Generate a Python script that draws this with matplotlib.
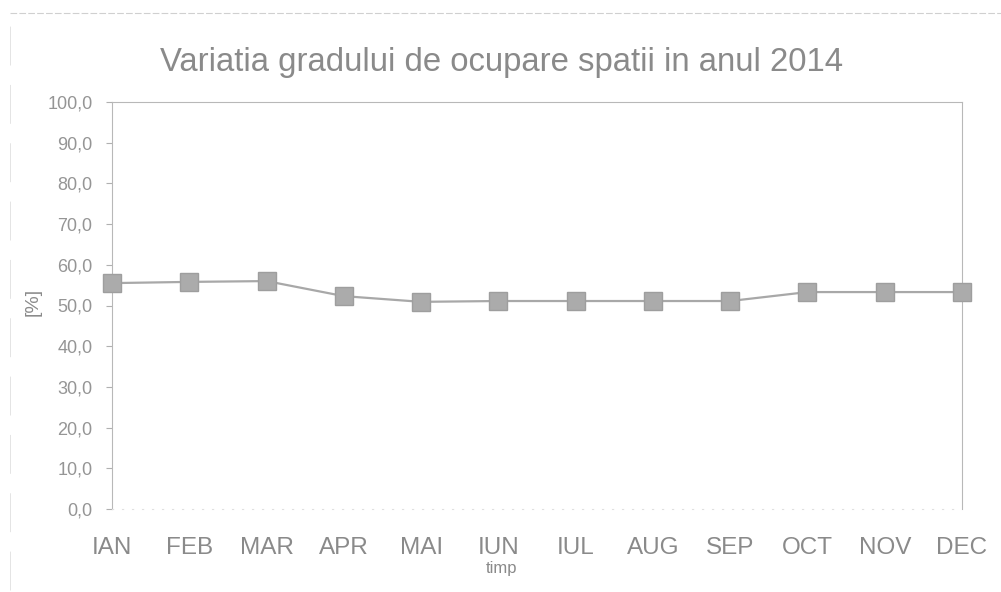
import numpy as np
import matplotlib.pyplot as plt
from matplotlib.lines import Line2D

# data
months = ["IAN", "FEB", "MAR", "APR", "MAI", "IUN", "IUL", "AUG", "SEP", "OCT", "NOV", "DEC"]
ocupare = [55.5, 55.8, 56.0, 52.3, 50.9, 51.1, 51.1, 51.1, 51.1, 53.3, 53.3, 53.3]
yticks = [0, 10, 20, 30, 40, 50, 60, 70, 80, 90, 100]

plt.rcParams['font.family'] = ['Liberation Sans', 'DejaVu Sans']
grey = "#8a8a8a"

fig = plt.figure(figsize=(10.01, 5.92), dpi=100)
ax = fig.add_axes([112 / 1001, 1 - 509 / 592, 850 / 1001, 407 / 592])

x = np.arange(len(months))
ax.plot(x, ocupare, color="#a8a8a8", lw=1.6, marker="s", ms=13,
        mfc="#ababab", mec="#9e9e9e", clip_on=False, zorder=3)

ax.set_xlim(0, len(months) - 1)
ax.set_ylim(0, 100)
ax.set_yticks(yticks)
ax.set_yticklabels([f"{v:.1f}".replace(".", ",") for v in yticks],
                   fontsize=13, color="#959595")
ax.set_xticks(x)
ax.set_xticklabels(months, fontsize=17.5, color=grey)
ax.tick_params(axis="x", length=0, pad=20)
ax.tick_params(axis="y", direction="out", length=4, color="#b0b0b0", pad=10)

for s in ["top", "right", "left"]:
    ax.spines[s].set_color("#b8b8b8")
ax.spines["right"].set_linestyle((0, (2, 1)))
ax.spines["bottom"].set_color("#e0e0e0")
ax.spines["bottom"].set_linestyle((0, (1, 8)))

fig.text(502 / 1001, 1 - 62 / 592, "Variatia gradului de ocupare spatii in anul 2014",
         ha="center", va="center", fontsize=23.7, color=grey)
fig.text(502 / 1001, 1 - 569 / 592, "timp", ha="center", va="center",
         fontsize=12, color=grey)
fig.text(33 / 1001, 1 - 302 / 592, "[%]", ha="center", va="center",
         rotation=90, fontsize=14, color=grey)

# faint chart frame (top and left edges only visible)
fig.lines.append(Line2D([10 / 1001, 1.0], [1 - 13 / 592, 1 - 13 / 592],
                        transform=fig.transFigure, color="#d0d0d0", lw=0.8,
                        ls=(0, (6, 2))))
fig.lines.append(Line2D([10 / 1001, 10 / 1001], [1 - 590 / 592, 1 - 13 / 592],
                        transform=fig.transFigure, color="#e4e4e4", lw=0.7,
                        ls=(0, (40, 20))))

fig.savefig("out.png", dpi=100)
